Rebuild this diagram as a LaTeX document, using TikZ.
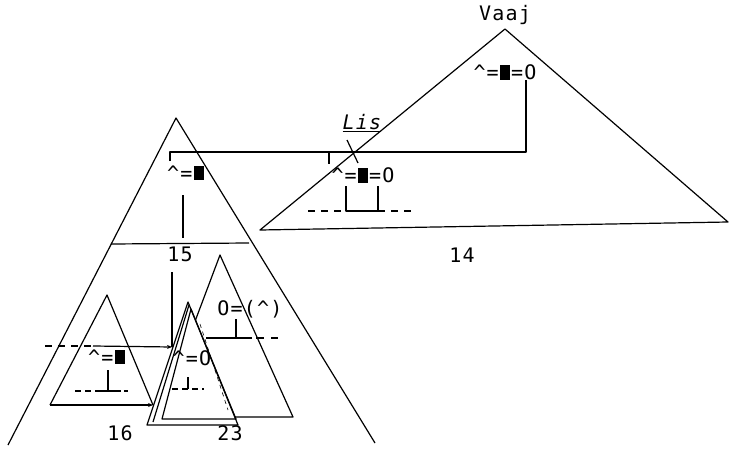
\documentclass[tikz,border=0pt]{standalone}
\usepackage{fontspec}
\newfontfamily\pix[LetterSpace=6]{DejaVu Sans Mono}
\usetikzlibrary{arrows.meta}
\newcommand\blkbox{\makebox[0.62em]{\rule[-0.02em]{0.5em}{0.72em}}}
\newcommand\crt{\textasciicircum}
\begin{document}
\begin{tikzpicture}[x=1pt,y=-1pt,line width=1.2pt,line join=round,
  lbl/.style={font=\pix\fontsize{20}{20}\selectfont,inner sep=0pt},
  dsh/.style={dash pattern=on 7pt off 6pt},
  tri/.style={draw,fill=white}]
\useasboundingbox (0,0) rectangle (729,453);
% ---- triangle vertices
\coordinate (A14) at (505,29);  \coordinate (L14) at (260,230); \coordinate (R14) at (728,222);
\coordinate (A15) at (176,118); \coordinate (L15) at (8,445);   \coordinate (R15) at (375,443);
\coordinate (A16) at (107,295); \coordinate (L16) at (50,405);  \coordinate (R16) at (153,405);
\coordinate (A23) at (220,255); \coordinate (L23) at (159,417); \coordinate (R23) at (293,417);
\coordinate (Ao) at (188,302);  \coordinate (Lo) at (147,425);  \coordinate (Ro) at (238,425);
\coordinate (Am) at (189,305);  \coordinate (Lm) at (153,422);
\coordinate (Ai) at (191,309);  \coordinate (Li) at (162,419);  \coordinate (Ri) at (236,419);
% ---- big triangles
\draw (A14) -- (L14) -- (R14) -- cycle;
\draw (L15) -- (A15) -- (R15);
% ---- labels
\node[lbl] (vaaj) at (505,15) {Vaaj};
\node[lbl] (top14) at (505,72) {\crt=\blkbox=O};
\node[lbl] (lis) at (362,123) {\itshape\underline{Lis}};
\node[lbl] (low14) at (363,175) {\crt=\blkbox=O};
\node[lbl] (n14) at (462,255) {14};
\node[lbl] (l15) at (186,173) {\crt=\blkbox};
\node[lbl] (n15) at (180,254) {15};
% ---- link 15 -> 14
\coordinate (k1) at (170,161); \coordinate (k2) at (170,152);
\coordinate (k3) at (526,152); \coordinate (k4) at (526,80);
\draw (k1) -- (k2) -- (k3) -- (k4);
\coordinate (t1) at (329,152); \coordinate (t2) at (329,164);
\draw (t1) -- (t2);
\coordinate (x1) at (347,140); \coordinate (x2) at (358,163);
\draw (x1) -- (x2);
% ---- structure under low14
\coordinate (v1) at (346,186); \coordinate (v1b) at (346,211);
\coordinate (v2) at (378,186); \coordinate (v2b) at (378,211);
\coordinate (d1) at (308,211); \coordinate (d2) at (417,211);
\draw (v1) -- (v1b) -- (v2b) -- (v2);
\draw[dsh] (d1) -- (v1b);
\draw[dsh] (v2b) -- (d2);
% ---- 15 structure
\coordinate (s1) at (183,195); \coordinate (s2) at (183,238);
\draw (s1) -- (s2);
\coordinate (h1) at (111,244); \coordinate (h2) at (249,243);
\draw (h1) -- (h2);
% ---- triangle 23
\draw (A23) -- (L23) -- (R23) -- cycle;
\node[lbl] (l23) at (250,309) {O=(\crt)};
\coordinate (o1) at (236,319); \coordinate (o2) at (236,338);
\coordinate (o3) at (206,338); \coordinate (o4) at (252,338); \coordinate (o5) at (278,338);
\draw (o1) -- (o2);
\draw (o3) -- (o4);
\draw[dash pattern=on 8pt off 7pt] (o4) ++(4,0) -- (o5);
% ---- double triangle
\draw[tri] (Ao) -- (Lo) -- (Ro) -- cycle;
\draw (Am) -- (Lm);
\draw (Ai) -- (Li) -- (Ri) -- cycle;
\draw[dash pattern=on 4pt off 4pt,line width=0.6pt] (200,324) -- (228,410);
\node[lbl] (ldbl) at (192,358) {\crt=O};
\coordinate (u1) at (188,377); \coordinate (u2) at (188,389);
\draw (u1) -- (u2);
\draw[dash pattern=on 6pt off 4pt] (172,389) -- (204,389);
% ---- vertical from 15 and arrow into double triangle
\coordinate (p1) at (172,272); \coordinate (p2) at (172,347);
\coordinate (q1) at (45,346);  \coordinate (q2) at (93,346);
\draw (p1) -- (p2);
\draw[dsh] (q1) -- (q2);
\draw[-{Stealth[length=5pt,width=4pt]}] (q2) -- (p2);
% ---- triangle 16
\draw (R16) -- (A16) -- (L16);
\draw[-{Stealth[length=5pt,width=4pt]}] (L16) -- (R16);
\node[lbl] (l16) at (107,357) {\crt=\blkbox};
\coordinate (w1) at (108,370); \coordinate (w2) at (108,391);
\draw (w1) -- (w2);
\draw[dash pattern=on 6pt off 4pt] (75,391) -- (96,391);
\draw (96,391) -- (121,391);
\draw (124,391) -- (128,391);
% ---- bottom labels
\node[lbl] (n16) at (120,433) {16};
\node[lbl] (n23) at (230,433) {23};
\end{tikzpicture}
\end{document}
